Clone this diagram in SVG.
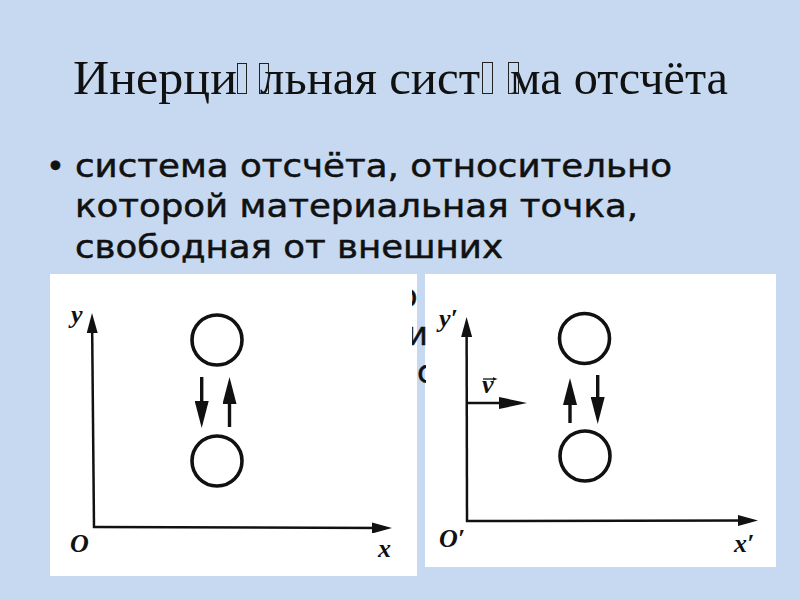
<svg xmlns="http://www.w3.org/2000/svg" width="800" height="600" viewBox="0 0 800 600">
<style>
.title{font-family:"Liberation Serif","Times New Roman",serif;font-size:48px;fill:#111}
.body{font-family:"DejaVu Sans","Verdana",sans-serif;font-size:32px;fill:#111;stroke:#111;stroke-width:0.5}
.tofu{fill:none;stroke:#222;stroke-width:1}
.panel{fill:#fff}
.axis{stroke:#111;stroke-width:2.5;fill:none}
.ball{fill:none;stroke:#111;stroke-width:3.6}
.mv{stroke:#111;stroke-width:3.4;fill:none}
.lbl{font-family:"Liberation Serif","Times New Roman",serif;font-style:italic;font-weight:bold;font-size:26px;fill:#111}
</style>
<defs>
<marker id="ah" markerUnits="userSpaceOnUse" markerWidth="20" markerHeight="11" refX="10" refY="5.5" orient="auto"><path d="M0,0 L20,5.5 L0,11 z" fill="#111"/></marker>
<marker id="sh" markerUnits="userSpaceOnUse" markerWidth="27" markerHeight="14" refX="13" refY="7" orient="auto"><path d="M0,0 L27,7 L0,14 z" fill="#111"/></marker>
<marker id="vh" markerUnits="userSpaceOnUse" markerWidth="28" markerHeight="12" refX="14" refY="6" orient="auto"><path d="M0,0 L28,6 L0,12 z" fill="#111"/></marker>
<marker id="th" markerUnits="userSpaceOnUse" markerWidth="5" markerHeight="4" refX="2.5" refY="2" orient="auto"><path d="M0,0 L5,2 L0,4 z" fill="#111"/></marker>
<clipPath id="gap"><rect x="412" y="280" width="14" height="120"/></clipPath>
</defs>
<rect width="800" height="600" fill="#c6d9f0"/>
<g id="title">
<text class="title" x="73" y="94" textLength="164" lengthAdjust="spacingAndGlyphs">Инерци</text>
<text class="title" x="260" y="94" textLength="220" lengthAdjust="spacingAndGlyphs">льная сист</text>
<text class="title" x="510" y="94" textLength="218" lengthAdjust="spacingAndGlyphs">ма отсчёта</text>
<rect class="tofu" x="237.5" y="63.5" width="9" height="30"/>
<rect class="tofu" x="259.5" y="63.5" width="9" height="30"/>
<rect class="tofu" x="482.5" y="62.5" width="10" height="31"/>
<rect class="tofu" x="508.5" y="62.5" width="10" height="31"/>
</g>
<g id="bullet-text">
<text class="body" x="46" y="177">•</text>
<text class="body" x="75" y="177" textLength="597" lengthAdjust="spacingAndGlyphs">система отсчёта, относительно</text>
<text class="body" x="75" y="217" textLength="563" lengthAdjust="spacingAndGlyphs">которой материальная точка,</text>
<text class="body" x="75" y="258" textLength="428" lengthAdjust="spacingAndGlyphs">свободная от внешних</text>
</g>
<g id="left-panel">
<rect class="panel" x="50" y="274" width="367" height="302"/>
<text class="lbl" x="71" y="323">y</text>
<text class="lbl" x="70" y="552">O</text>
<text class="lbl" x="378" y="557">x</text>
</g>
<g id="right-panel">
<rect class="panel" x="425" y="274" width="351" height="293"/>
<text class="lbl" x="439" y="327">y′</text>
<text class="lbl" x="439" y="547">O′</text>
<text class="lbl" x="734" y="552">x′</text>
<text class="lbl" x="482" y="393">v</text>
<line x1="483" y1="379" x2="495" y2="379" stroke="#111" stroke-width="1.3" marker-end="url(#th)"/>
</g>
<g id="hidden-text-fragments" clip-path="url(#gap)">
<text class="body" x="398" y="307">о</text>
<text class="body" x="407" y="345">и</text>
<text class="body" x="417" y="383">с</text>
</g>
<g id="ball-left-top"><circle class="ball" cx="217" cy="340" r="25"/></g>
<g id="ball-left-bottom"><circle class="ball" cx="217" cy="461" r="25"/></g>
<g id="ball-right-top"><circle class="ball" cx="584.5" cy="338.5" r="25"/></g>
<g id="ball-right-bottom"><circle class="ball" cx="585" cy="456" r="25"/></g>
<g id="connectors">
<line class="axis" x1="94" y1="528" x2="92.1" y2="323" marker-end="url(#ah)"/>
<line class="axis" x1="93" y1="527" x2="382" y2="528" marker-end="url(#ah)"/>
<line class="mv" x1="201.7" y1="377" x2="201.7" y2="414" marker-end="url(#sh)"/>
<line class="mv" x1="229.5" y1="427" x2="229.5" y2="391" marker-end="url(#sh)"/>
<line class="axis" x1="467" y1="522" x2="466.6" y2="327" marker-end="url(#ah)"/>
<line class="axis" x1="466" y1="521" x2="748" y2="520.5" marker-end="url(#ah)"/>
<line class="axis" x1="467" y1="403" x2="513" y2="403" marker-end="url(#vh)"/>
<line class="mv" x1="570" y1="423" x2="570" y2="392" marker-end="url(#sh)"/>
<line class="mv" x1="597.7" y1="375" x2="597.7" y2="410" marker-end="url(#sh)"/>
</g>
</svg>
